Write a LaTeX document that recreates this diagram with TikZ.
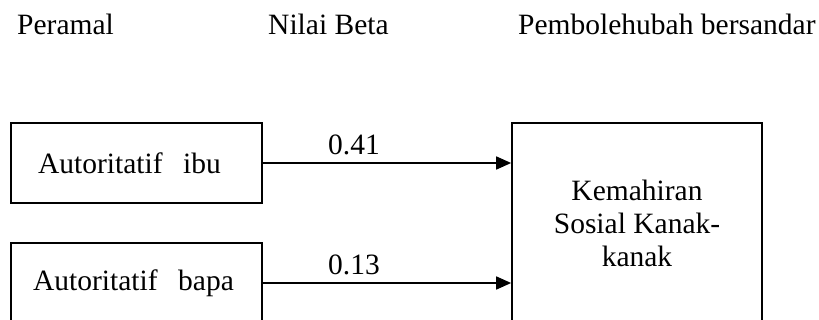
\documentclass[tikz,border=0pt]{standalone}
\usepackage{fontspec}
\setmainfont{Liberation Serif}
\usetikzlibrary{arrows.meta}
\begin{document}
\begin{tikzpicture}[x=1pt,y=-1pt,
  txt/.style={font=\fontsize{29.5}{33}\selectfont},
  box/.style={draw, line width=1.7pt, minimum width=251pt, minimum height=80pt, inner sep=0pt, txt},
  hdr/.style={anchor=base west, inner sep=0pt, txt},
  lbl/.style={anchor=base, inner sep=0pt, txt},
  link/.style={line width=1.7pt, -{Triangle[length=15pt,width=13pt]}}]
\useasboundingbox (0,0) rectangle (819,320);
% headers
\node[hdr] (h1) at (17,35) {Peramal};
\node[hdr] (h2) at (268,35) {Nilai Beta};
\node[hdr] (h3) at (518,35) {Pembolehubah bersandar};
% boxes
\node[box] (ibu) at (136.5,163) {Autoritatif\hspace{0.7em}ibu\kern14pt};
\node[box] (bapa) at (136.5,283) {Autoritatif\hspace{0.7em}bapa\kern6pt};
\node[box, minimum width=250pt, minimum height=200pt, align=center] (anak) at (637,223)
  {Kemahiran\\Sosial Kanak-\\kanak};
% connectors
\draw[link] (ibu.east) -- (anak.west |- ibu.east);
\draw[link] (bapa.east) -- (anak.west |- bapa.east);
% labels
\node[lbl] (b1) at (354,155) {0.41};
\node[lbl] (b2) at (354,275) {0.13};
\end{tikzpicture}
\end{document}
